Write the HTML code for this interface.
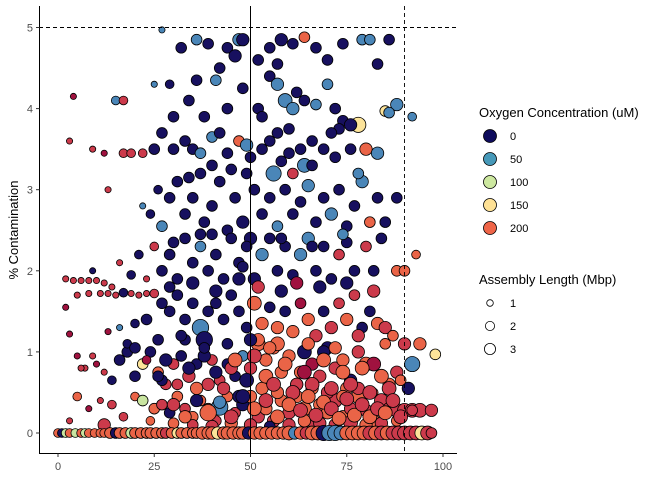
<!DOCTYPE html>
<html><head><meta charset="utf-8"><style>
body{margin:0;background:#fff;}
svg{display:block;font-family:"Liberation Sans",Arial,sans-serif;}
</style></head><body>
<svg id="chart" width="672" height="480" viewBox="0 0 672 480" xmlns="http://www.w3.org/2000/svg">
<rect width="672" height="480" fill="#fff"/>
<g id="points"></g>
<g id="refs"></g>
<g id="axes"></g>
<text transform="translate(18,230) rotate(-90)" text-anchor="middle" font-size="13" fill="#000">% Contamination</text>
<g>
<text x="479" y="117" font-size="13" fill="#000">Oxygen Concentration (uM)</text>
<g id="legO"></g>
</g>
<g>
<text x="479" y="284" font-size="13" fill="#000">Assembly Length (Mbp)</text>
<g id="legL"></g>
</g>
</svg>
<script>
const xVals = [
27,32,36,39,44,46,47,48,55,58,61,64,67,74,79,81,86,42,52,57,70,83,4,15,17,25,29,36,41,48,55,57,59,62,64,67,70,72,78,85,88,86,92,74,76,61,52,44,38,
3,9,12,17,19,22,25,27,30,33,35,37,40,42,44,47,49,53,55,57,60,63,66,69,73,76,80,83,71,64,58,
13,22,24,27,29,31,33,35,37,38,40,42,44,46,48,50,51,53,55,57,59,61,63,65,67,69,71,73,75,77,79,81,83,85,88,56,49,45,34,61,26,
2,4,6,8,10,12,14,16,19,21,23,25,27,29,31,33,35,37,39,41,43,45,47,49,51,53,55,57,59,61,63,65,67,69,71,73,75,77,80,82,84,88,90,93,9,37,
2,5,8,11,13,15,17,19,21,23,25,27,29,31,33,35,37,39,41,43,45,47,49,51,53,55,57,59,61,63,65,67,69,71,73,75,77,79,81,83,85,87,3,13,16,20,
5,7,10,12,14,16,18,20,22,24,26,28,30,32,34,36,38,40,42,44,46,48,50,52,54,56,58,60,62,64,66,68,70,72,74,76,78,80,82,84,86,88,90,92,94,98,91,6,9,18,23,27,33,39,45,52,57,63,69,75,
3,5,8,11,14,17,20,22,25,27,29,31,33,35,37,39,41,42,44,46,48,50,52,54,56,58,60,62,64,66,68,70,72,74,76,78,80,82,84,86,88,90,92,94,97,60,64,68,72,76,80,84,88,40,45,50,55,30,35,24,12,47,53,57,62,66,70,74,78,82,
0,1,2,3,4.5,6,7,8,9.5,11,12,13.5,15,16,17.5,19,20,21.5,23,24,25.5,27,28,29.5,31,32,33.5,35,36,37.5,39,40,41.5,43,44,45.5,47,48,49.5,51,52.5,54,55.5,57,58.5,60,61.5,63,64.5,66,67.5,69,70.5,72,73.5,75,76.5,78,79.5,81,82.5,84,85.5,87,88.5,90,91.5,93,94.5,96,97,
26,28,31,34,36,38,41,43,46,49,51,54,56,59,61,64,66,69,71,74,76,79,81,84,86,89,
30,33,36,39,42,45,48,51,54,57,60,63,65,67,69,71,73,75,77,79,81,83,85,87,89,92,
20,23,26,29,32,35,38,41,44,47,50,52,55,58,62,65,68,72,75,78,82,85,30,40,48,58,66,74,
30,34,40,50,53,60,66,72,78,45
];
const yVals = [
4.97,4.75,4.85,4.8,4.75,4.65,4.85,4.85,4.75,4.85,4.8,4.88,4.75,4.8,4.85,4.85,4.85,4.5,4.6,4.55,4.6,4.55,4.15,4.1,4.1,4.3,4.3,4.35,4.35,4.25,4.4,4.3,4.1,4.2,4.1,4.05,4.3,4.0,3.8,3.97,4.05,3.95,3.9,3.85,3.8,4.0,4.0,4.0,3.9,
3.6,3.5,3.45,3.45,3.45,3.45,3.5,3.7,3.5,3.6,3.5,3.45,3.65,3.7,3.45,3.6,3.55,3.5,3.6,3.7,3.45,3.5,3.6,3.5,3.75,3.5,3.5,3.45,3.7,3.3,3.35,
3.0,2.8,2.7,2.55,2.9,3.1,2.7,2.9,3.2,2.6,2.8,3.1,2.5,2.9,2.6,2.4,3.0,2.7,2.9,2.55,3.0,2.7,2.85,3.05,2.6,2.9,2.7,3.0,2.55,2.8,3.1,2.6,2.9,2.6,2.9,3.2,3.2,3.25,3.15,3.2,3.0,
1.9,1.88,1.88,1.88,1.88,1.85,1.8,2.1,1.95,2.2,1.9,2.3,2.0,2.2,1.9,2.4,2.1,2.3,2.0,2.2,1.9,2.4,2.1,2.3,1.9,2.2,2.4,2.0,2.3,1.95,2.2,2.4,2.0,2.3,1.9,2.2,2.35,2.0,2.3,2.0,2.4,2.0,2.0,2.2,2.0,2.45,
1.55,1.7,1.72,1.72,1.72,1.7,1.73,1.72,1.7,1.72,1.72,1.6,1.5,1.7,1.4,1.6,1.3,1.5,1.6,1.4,1.7,1.5,1.3,1.6,1.35,1.55,1.3,1.5,1.25,1.6,1.4,1.2,1.5,1.3,1.6,1.4,1.7,1.3,1.5,1.35,1.3,1.2,1.22,1.25,1.3,1.35,
0.95,0.8,0.85,0.75,0.65,0.9,1.0,0.7,0.85,1.0,0.75,0.6,0.85,0.95,0.7,0.85,1.15,0.9,0.65,0.85,0.7,0.95,0.8,1.1,0.9,1.05,0.75,0.95,0.6,1.0,0.85,0.7,1.05,0.8,0.9,0.65,1.0,0.85,0.85,0.7,0.6,0.75,1.1,0.85,1.1,0.97,0.55,0.8,0.95,1.1,0.9,0.65,1.15,0.6,0.8,1.15,1.1,0.75,1.0,0.55,
0.15,0.45,0.3,0.4,0.35,0.2,0.45,0.4,0.3,0.35,0.25,0.45,0.3,0.2,0.4,0.3,0.15,0.32,0.45,0.25,0.35,0.45,0.2,0.3,0.15,0.4,0.25,0.45,0.3,0.15,0.35,0.25,0.4,0.2,0.3,0.45,0.28,0.15,0.4,0.3,0.28,0.28,0.28,0.28,0.28,0.1,0.15,0.12,0.1,0.13,0.1,0.12,0.15,0.08,0.12,0.1,0.08,0.12,0.1,0.15,0.1,0.45,0.55,0.5,0.6,0.55,0.5,0.45,0.55,0.5,
0,0,0,0,0,0,0,0,0,0,0,0,0,0,0,0,0,0,0,0,0,0,0,0,0,0,0,0,0,0,0,0,0,0,0,0,0,0,0,0,0,0,0,0,0,0,0,0,0,0,0,0,0,0,0,0,0,0,0,0,0,0,0,0,0,0,0,0,0,0,0,
0.7,0.9,0.6,0.8,0.55,0.95,0.75,0.55,0.9,0.65,0.95,0.7,0.6,0.85,0.5,0.75,0.6,0.9,0.55,0.75,0.6,0.8,0.5,0.7,0.55,0.65,
0.35,0.2,0.4,0.25,0.38,0.2,0.45,0.3,0.4,0.2,0.35,0.28,0.45,0.22,0.38,0.3,0.18,0.42,0.22,0.35,0.2,0.3,0.25,0.4,0.2,0.28,
1.05,1.4,1.15,1.8,1.2,1.85,1.05,1.75,1.1,1.9,1.15,1.8,1.05,1.75,1.85,1.1,1.8,1.05,1.85,1.2,1.75,1.1,2.35,2.45,2.05,2.4,2.3,2.45,
3.9,4.1,3.3,3.4,3.9,3.75,3.3,3.4,3.2,4.5
];
const oxygenVals = [
50,0,50,0,0,0,50,0,0,0,0,200,0,0,50,50,0,0,0,0,0,0,300,50,250,50,0,0,50,0,0,50,50,0,0,50,50,0,150,150,50,50,50,0,0,50,0,0,0,
250,250,300,250,250,250,0,0,0,0,0,50,50,0,0,200,50,0,0,0,0,0,0,0,0,0,200,50,0,50,0,
250,50,0,50,0,0,0,0,0,0,0,0,0,0,0,0,0,0,0,50,0,0,0,50,0,0,50,0,0,0,50,200,0,0,0,50,0,0,0,250,0,
250,250,250,250,250,250,250,250,0,0,250,250,0,0,0,0,0,50,0,0,0,0,0,0,0,50,0,0,0,0,50,50,0,0,0,250,0,0,250,0,0,200,200,200,0,0,
300,250,250,250,250,250,0,250,250,250,250,0,0,0,0,0,50,0,0,0,0,0,0,200,200,0,200,0,200,300,200,250,0,250,250,200,250,0,0,200,250,200,300,300,50,0,
300,250,300,250,0,0,0,0,150,0,200,250,250,0,250,0,0,250,250,0,0,50,250,200,200,200,200,200,0,0,300,250,0,250,200,0,250,200,300,250,200,250,250,50,200,150,0,250,250,0,300,0,0,250,250,200,200,200,0,200,
250,200,300,250,250,250,200,100,200,250,0,200,250,200,200,200,250,50,200,250,0,200,250,200,250,200,250,200,200,250,200,200,250,200,250,200,250,200,250,250,250,250,250,250,250,250,200,250,250,250,200,250,200,250,200,250,0,200,250,200,250,0,200,200,250,200,250,200,250,200,
200,0,100,200,100,200,100,200,200,200,200,200,0,200,200,100,200,200,200,200,200,200,250,200,150,200,200,200,200,200,200,200,150,200,200,200,200,200,0,200,200,200,200,200,200,200,50,200,250,200,200,0,50,50,50,200,200,200,200,250,200,250,200,250,250,250,250,250,150,250,250,
0,0,250,0,200,0,0,250,200,0,250,200,250,200,250,300,250,200,250,200,250,200,250,200,250,200,
250,200,0,200,50,250,0,200,250,200,200,250,200,250,200,250,200,250,200,250,200,250,200,250,250,250,
0,0,0,0,0,0,0,0,0,0,0,250,200,0,300,200,0,200,0,250,250,200,0,0,0,0,0,50,
0,0,0,0,0,0,0,0,50,0
];
const lengthVals = [
1,3,3,3,3,4,4,4,3,4,3,3,3,3,3,3,3,3,3,3,3,3,1,2,2,1,2,3,3,3,3,4,5,3,3,3,3,3,6,3,4,3,2,3,4,4,3,3,3,
1,1,1,2,2,2,3,3,3,3,3,3,3,3,3,3,4,3,3,3,3,3,3,3,3,3,4,4,3,5,3,
1,1,2,3,3,3,3,3,3,3,3,3,3,3,4,4,3,3,3,3,3,3,3,4,3,3,4,3,3,3,4,3,3,3,3,6,3,3,3,3,2,
1,1,1,1,1,1,1,1,2,2,1,2,3,3,3,3,3,3,3,3,3,3,3,3,4,4,3,3,3,3,4,4,3,3,3,3,3,3,3,3,3,3,3,2,1,3,
1,1,1,1,1,1,2,1,1,1,2,3,3,3,3,3,7,3,3,3,3,3,3,5,4,3,4,3,4,3,4,4,3,4,3,4,3,3,3,4,4,3,1,1,1,2,
1,1,1,1,2,3,3,3,3,3,3,3,3,3,4,3,7,3,3,3,3,3,4,5,4,4,4,4,4,5,4,4,4,4,4,4,4,5,5,4,4,4,4,6,4,3,4,1,1,2,2,3,3,4,4,4,5,4,4,4,
1,2,1,1,2,2,2,3,3,3,3,3,3,3,3,3,3,7,3,3,4,4,4,4,4,4,4,4,5,4,4,4,5,4,4,5,4,4,5,4,5,5,5,5,4,4,4,4,4,5,4,4,3,4,4,4,3,3,3,2,4,4,4,4,4,4,4,4,4,
2,2,2,2,2,2,2,2,2,2,2,2,3,3,3,3,3,3,3,3,3,3,3,3,3,3,3,3,3,3,4,4,4,4,4,4,4,4,4,4,4,4,4,4,4,4,5,4,4,4,5,5,6,6,6,5,5,5,5,5,5,5,5,5,5,5,5,5,5,5,5,
3,3,4,3,4,4,4,4,4,5,5,5,5,5,5,5,5,5,5,5,5,5,5,5,5,5,
3,4,4,4,7,4,5,5,5,5,5,5,5,5,5,5,5,5,5,5,5,5,5,5,5,5,
3,3,3,3,3,3,4,3,4,3,4,4,4,4,4,4,4,4,4,4,4,4,3,3,3,3,3,3,
3,3,3,3,3,3,3,3,3,3
];
const xTicks = [0,25,50,75,100];
const yTicks = [0,1,2,3,4,5];
const oxyLegend = [0,50,100,150,200];
const lenLegend = [1,2,3];

const NS = "http://www.w3.org/2000/svg";
const sx = v => 58 + v * 3.85;
const sy = v => 433 - v * 81.1;
const rad = l => 3.1 * Math.sqrt(l);
const colorMap = {0:"#17105f",50:"#4a86b8",100:"#c9e5a0",150:"#fde49a",200:"#ea6447",250:"#cc3a4b",300:"#a0123f"};
const legColor = {0:"#0e0b5c",50:"#4799b9",100:"#cde8a0",150:"#fee195",200:"#ef6548"};
function mk(tag, attrs, parent){const e=document.createElementNS(NS,tag);for(const k in attrs)e.setAttribute(k,attrs[k]);parent.appendChild(e);return e;}

const pts = document.getElementById("points");
const n = Math.min(xVals.length, yVals.length, oxygenVals.length, lengthVals.length);
for (let i=0;i<n;i++){
  const c = mk("circle",{cx:sx(xVals[i]),cy:sy(yVals[i]),r:rad(lengthVals[i]),fill:colorMap[oxygenVals[i]]||"#ea6447",stroke:"#000","stroke-width":0.8},pts);
  
  
}

const refs = document.getElementById("refs");
let l1 = mk("line",{x1:39,x2:457,y1:sy(5),y2:sy(5),stroke:"#000","stroke-width":0.9,"stroke-dasharray":"4,3"},refs);


let l2 = mk("line",{x1:sx(50),x2:sx(50),y1:6,y2:454,stroke:"#000","stroke-width":1},refs);


let l3 = mk("line",{x1:sx(90),x2:sx(90),y1:6,y2:454,stroke:"#000","stroke-width":0.9,"stroke-dasharray":"4,3"},refs);



const ax = document.getElementById("axes");
let ya = mk("line",{x1:39.5,x2:39.5,y1:6,y2:454,stroke:"#000","stroke-width":1},ax);


let xa = mk("line",{x1:39,x2:457,y1:453.5,y2:453.5,stroke:"#000","stroke-width":1},ax);


yTicks.forEach(t=>{
  mk("line",{x1:36,x2:39.5,y1:sy(t),y2:sy(t),stroke:"#333","stroke-width":1},ax);
  const tx = mk("text",{x:33,y:sy(t)+4,"text-anchor":"end","font-size":11,fill:"#4d4d4d"},ax);
  tx.textContent = t;
  
  
});
xTicks.forEach(t=>{
  mk("line",{x1:sx(t),x2:sx(t),y1:453.5,y2:457,stroke:"#333","stroke-width":1},ax);
  const tx = mk("text",{x:sx(t),y:470,"text-anchor":"middle","font-size":11,fill:"#4d4d4d"},ax);
  tx.textContent = t;
  
  
});

const lo = document.getElementById("legO");
oxyLegend.forEach((v,i)=>{
  const y = 136 + i*23;
  const c = mk("circle",{cx:490,cy:y,r:6.5,fill:legColor[v],stroke:"#000","stroke-width":0.8},lo);
  
  
  const t = mk("text",{x:510,y:y+4,"font-size":11,fill:"#000"},lo);
  t.textContent = v;
  
  
});
const ll = document.getElementById("legL");
lenLegend.forEach((v,i)=>{
  const y = 303 + i*23;
  const c = mk("circle",{cx:490,cy:y,r:[3.3,4.6,5.6][i],fill:"#fff",stroke:"#000","stroke-width":0.8},ll);
  
  
  const t = mk("text",{x:510,y:y+4,"font-size":11,fill:"#000"},ll);
  t.textContent = v;
  
  
});
</script>
</body></html>
